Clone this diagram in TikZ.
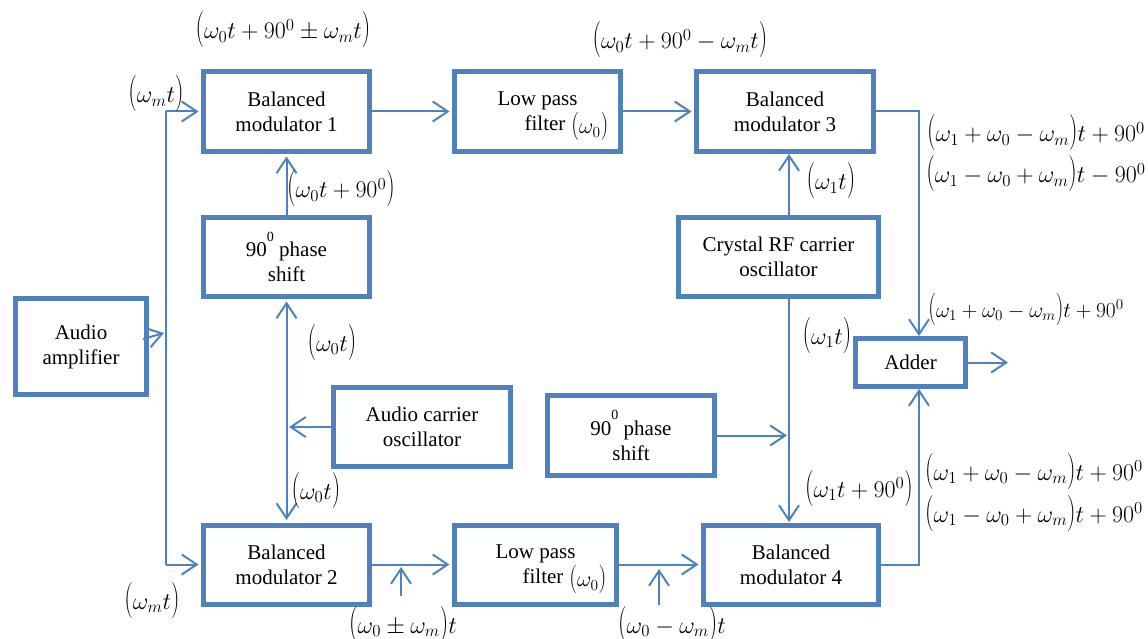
\RequirePackage{fix-cm}
\documentclass[tikz,border=0pt]{standalone}
\usepackage{graphicx}
\usepackage{fontspec}
\setmainfont{Liberation Serif}
\usetikzlibrary{arrows.meta}
\definecolor{bl}{RGB}{79,129,189}
\newcommand\lpar{\mathopen{\scalebox{1}[1.5]{$($}}}
\newcommand\rpar{\mathclose{\scalebox{1}[1.5]{$)$}}}
\newcommand\pl[1]{\lpar#1\rpar}
\newcommand\fpl[1]{\mathopen{\scalebox{1}[1.3]{$($}}#1\mathclose{\scalebox{1}[1.3]{$)$}}}
\newcommand\dgr{\raisebox{0.72em}{\fontsize{14}{14}\selectfont 0}}
\newcommand\mfont{\fontsize{24}{28}\selectfont}
\newcommand\filt{\smash{\raisebox{-3pt}{\fontsize{22}{26}\selectfont$\fpl{\omega_0}$}}}
\begin{document}
\begin{tikzpicture}[x=1pt,y=-1pt,
  box/.style={draw=bl,line width=5pt,inner sep=0pt,align=center,font=\fontsize{21}{25}\selectfont},
  ln/.style={draw=bl,line width=2pt},
  arr/.style={ln,-{Straight Barb[length=15pt,width=20pt]}},
  arrtwo/.style={ln,{Straight Barb[length=15pt,width=20pt]}-{Straight Barb[length=15pt,width=20pt]},shorten <=2.5pt,shorten >=2.5pt},
  tob/.style={shorten >=2.5pt},
  lab/.style={inner sep=0pt,font=\mfont}]
\useasboundingbox (0,0) rectangle (1148,639);
% boxes
\node[box,minimum width=166pt,minimum height=80pt] (bm1) at (286.5,111.5) {Balanced\\modulator 1};
\node[box,minimum width=166pt,minimum height=80pt] (lpf1) at (537.5,111.5) {Low pass\\\hspace*{58pt}filter\;\filt};
\node[box,minimum width=177pt,minimum height=80pt] (bm3) at (785,111.5) {Balanced\\modulator 3};
\node[box,minimum width=166pt,minimum height=79pt] (ps1) at (286.5,257) {90\dgr\ phase\\shift};
\node[box,minimum width=200pt,minimum height=79pt] (crys) at (778.5,257) {Crystal RF carrier\\oscillator};
\node[box,minimum width=131pt,minimum height=96pt] (amp) at (81,346.5) {Audio\\amplifier};
\node[box,minimum width=110pt,minimum height=48pt] (adder) at (910.5,362.5) {Adder};
\node[box,minimum width=177pt,minimum height=79pt] (aco) at (422,427) {Audio carrier\\oscillator};
\node[box,minimum width=167pt,minimum height=80pt] (ps2) at (631,435.5) {90\dgr\ phase\\shift};
\node[box,minimum width=166pt,minimum height=79pt] (bm2) at (286.5,564.5) {Balanced\\modulator 2};
\node[box,minimum width=162pt,minimum height=79pt] (lpf2) at (535.5,564.5) {Low pass\\\hspace*{58pt}filter\;\filt};
\node[box,minimum width=175pt,minimum height=79pt] (bm4) at (791,564.5) {Balanced\\modulator 4};
% left bus
\coordinate (jt) at (166,111.5);
\coordinate (jb) at (166,564.5);
\draw[ln] (jt) -- (jb);
\draw[arr,tob] (jt) -- (bm1.west);
\draw[arr,tob] (jb) -- (bm2.west);
\coordinate (ampo) at (143,339);
\coordinate (ampi) at (164,333);
\draw[arr] (ampo) -- (ampi);
% top row
\draw[arr,tob] (bm1) -- (lpf1);
\draw[arr,tob] (lpf1) -- (bm3);
\coordinate (adn) at (919,338.5);
\coordinate (ads) at (919,386.5);
\coordinate (out) at (1008,362.5);
\draw[arr,tob] (bm3.east) -| (adn);
\draw[arr,tob] (bm4.east) -| (ads);
\draw[arr] (adder.east) -- (out);
% left column
\draw[arr,tob] (ps1) -- (bm1);
\draw[arrtwo] (ps1) -- (bm2);
\coordinate (acoi) at (289,427);
\draw[arr] (aco.west) -- (acoi);
% right column
\coordinate (crt) at (789,217.5);
\coordinate (bm3b) at (789,151.5);
\coordinate (crb) at (789,296.5);
\coordinate (bm4t) at (789,524.5);
\draw[arr,tob] (crt) -- (bm3b);
\draw[arr,tob] (crb) -- (bm4t);
\coordinate (ps2i) at (787,435.5);
\draw[arr] (ps2.east) -- (ps2i);
% bottom row
\draw[arr,tob] (bm2) -- (lpf2);
\draw[arr,tob] (lpf2) -- (bm4);
\coordinate (ua) at (401,596);
\coordinate (ub) at (401,567);
\draw[arr] (ua) -- (ub);
\coordinate (va) at (659,605);
\coordinate (vb) at (659,569);
\draw[arr] (va) -- (vb);
% labels
\node[lab] (l1) at (283,30) {$\pl{\omega_0 t+90^0\pm\omega_m t}$};
\node[lab] (l2) at (680,40) {$\pl{\omega_0 t+90^0-\omega_m t}$};
\node[lab] (l3) at (156,94) {$\pl{\omega_m t}$};
\node[lab] (l4) at (341,189) {$\pl{\omega_0 t+90^0}$};
\node[lab] (l5) at (1036,133) {$\pl{\omega_1+\omega_0-\omega_m}t+90^0$};
\node[lab] (l6) at (1036,174) {$\pl{\omega_1-\omega_0+\omega_m}t-90^0$};
\node[lab] (l7) at (831,181) {$\pl{\omega_1 t}$};
\node[lab] (l8) at (332,342) {$\pl{\omega_0 t}$};
\node[lab] (l9) at (827,335) {$\pl{\omega_1 t}$};
\node[lab,font=\fontsize{21.5}{25}\selectfont] (l10) at (1026,309) {$\pl{\omega_1+\omega_0-\omega_m}t+90^0$};
\node[lab] (l11) at (316,490) {$\pl{\omega_0 t}$};
\node[lab] (l12) at (859,488) {$\pl{\omega_1 t+90^0}$};
\node[lab] (l13) at (1034,471) {$\pl{\omega_1+\omega_0-\omega_m}t+90^0$};
\node[lab] (l14) at (1034,513) {$\pl{\omega_1-\omega_0+\omega_m}t+90^0$};
\node[lab] (l15) at (152,600) {$\pl{\omega_m t}$};
\node[lab] (l16) at (403,624) {$\pl{\omega_0\pm\omega_m}t$};
\node[lab] (l17) at (672,624) {$\pl{\omega_0-\omega_m}t$};
\end{tikzpicture}
\end{document}
